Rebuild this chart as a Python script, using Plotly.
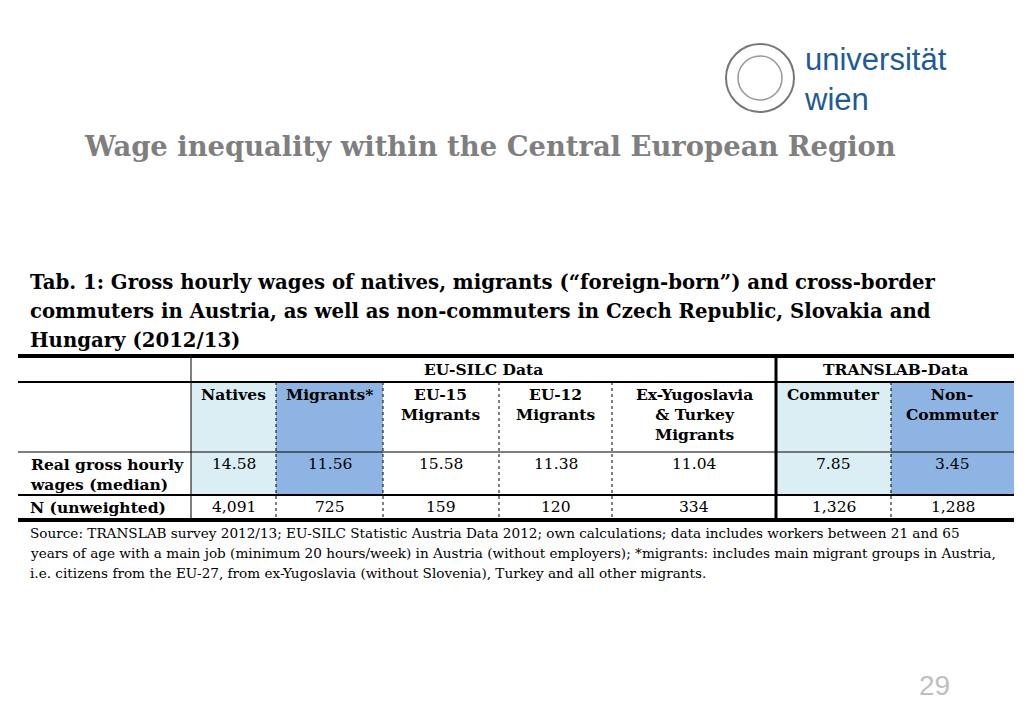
import plotly.graph_objects as go

# table content
col_headers = ["Natives", "Migrants*", "EU-15<br>Migrants", "EU-12<br>Migrants",
               "Ex-Yugoslavia<br>& Turkey<br>Migrants", "Commuter", "Non-<br>Commuter"]
wages = ["14.58", "11.56", "15.58", "11.38", "11.04", "7.85", "3.45"]
n_unweighted = ["4,091", "725", "159", "120", "334", "1,326", "1,288"]
row_labels = ["Real gross hourly<br>wages (median)", "N (unweighted)"]
groups = ["EU-SILC Data", "TRANSLAB-Data"]
caption_lines = ["Tab. 1: Gross hourly wages of natives, migrants (“foreign-born”) and cross-border",
                 "commuters in Austria, as well as non-commuters in Czech Republic, Slovakia and",
                 "Hungary (2012/13)"]
source_lines = ["Source: TRANSLAB survey 2012/13; EU-SILC Statistic Austria Data 2012; own calculations; data includes workers between 21 and 65",
                "years of age with a main job (minimum 20 hours/week) in Austria (without employers); *migrants: includes main migrant groups in Austria,",
                "i.e. citizens from the EU-27, from ex-Yugoslavia (without Slovenia), Turkey and all other migrants."]

# layout (pixels)
col_x = [191, 276, 383, 499, 612, 776, 891, 1014]
fills = ["#DAEEF3", "#8DB4E2", None, None, None, "#DAEEF3", "#8DB4E2"]
y_top, y_grp, y_hdr, y_wage, y_bot = 356, 382, 452, 495, 520
x_left = 18
serif = "DejaVu Serif"

fig = go.Figure()
shapes = []
ann = []

def txt(x, y, s, size=15.5, bold=True, xanchor="center", yanchor="top", color="black", family=serif):
    ann.append(dict(x=x, y=y, text=f"<b>{s}</b>" if bold else s, showarrow=False,
                    xanchor=xanchor, yanchor=yanchor, align=xanchor if xanchor != "right" else "right",
                    font=dict(family=family, size=size, color=color)))

for i, f in enumerate(fills):
    if f:
        shapes.append(dict(type="rect", x0=col_x[i], x1=col_x[i + 1], y0=y_grp, y1=y_wage,
                           fillcolor=f, line_width=0, layer="below"))

def hline(y, w, x0=x_left, x1=1014):
    shapes.append(dict(type="line", x0=x0, x1=x1, y0=y, y1=y, line=dict(color="black", width=w)))

def vline(x, y0, y1, w=1, dash="solid"):
    shapes.append(dict(type="line", x0=x, x1=x, y0=y0, y1=y1, line=dict(color="black", width=w, dash=dash)))

hline(y_top, 4)
hline(y_grp, 2)
hline(y_hdr, 1)
hline(y_wage, 2)
hline(y_bot, 4)
vline(col_x[0], y_top, y_bot, 1)
vline(col_x[5], y_top, y_bot, 3)
for i in [1, 2, 3, 4, 6]:
    vline(col_x[i], y_grp, y_bot, 1, "dot")

txt((col_x[0] + col_x[5]) / 2, y_top + 2, groups[0])
txt((col_x[5] + col_x[7]) / 2, y_top + 2, groups[1])
for i, h in enumerate(col_headers):
    cx = (col_x[i] + col_x[i + 1]) / 2
    txt(cx, y_grp + 1, h)
    txt(cx, y_hdr + 1, wages[i], bold=False)
    txt(cx, y_wage + 1, n_unweighted[i], bold=False)
txt(28, y_hdr + 1, row_labels[0], xanchor="left")
txt(28, y_wage + 1, row_labels[1], xanchor="left")

# caption and source, one annotation per line to control spacing
for k, line in enumerate(caption_lines):
    txt(28, 282 + 29 * k, line, size=19.7, xanchor="left", yanchor="middle")
for k, line in enumerate(source_lines):
    txt(28, 533 + 20 * k, line, size=13.6, bold=False, xanchor="left", yanchor="middle")

# title, page number, logo
txt(82, 146, "Wage inequality within the Central European Region", size=27.4, xanchor="left",
    yanchor="middle", color="#7F7F7F")
txt(952, 685, "29", size=28, bold=False, xanchor="right", yanchor="middle", color="#BFBFBF",
    family="Liberation Sans")
shapes.append(dict(type="circle", x0=726, x1=794, y0=44, y1=112, line=dict(color="#777", width=2)))
shapes.append(dict(type="circle", x0=738, x1=782, y0=56, y1=100, line=dict(color="#999", width=1.5)))
txt(802, 79, "universität<br>wien", size=31, bold=False, xanchor="left", yanchor="middle",
    color="#1F5A94", family="Liberation Sans")

# page body has an 8px margin, shift the ranges to compensate
fig.update_layout(width=1024, height=724, margin=dict(l=0, r=0, t=0, b=0),
                  plot_bgcolor="white", paper_bgcolor="white", shapes=shapes, annotations=ann,
                  xaxis=dict(range=[8, 1032], visible=False, fixedrange=True),
                  yaxis=dict(range=[732, 8], visible=False, fixedrange=True),
                  showlegend=False)
fig.write_html("out.html")
